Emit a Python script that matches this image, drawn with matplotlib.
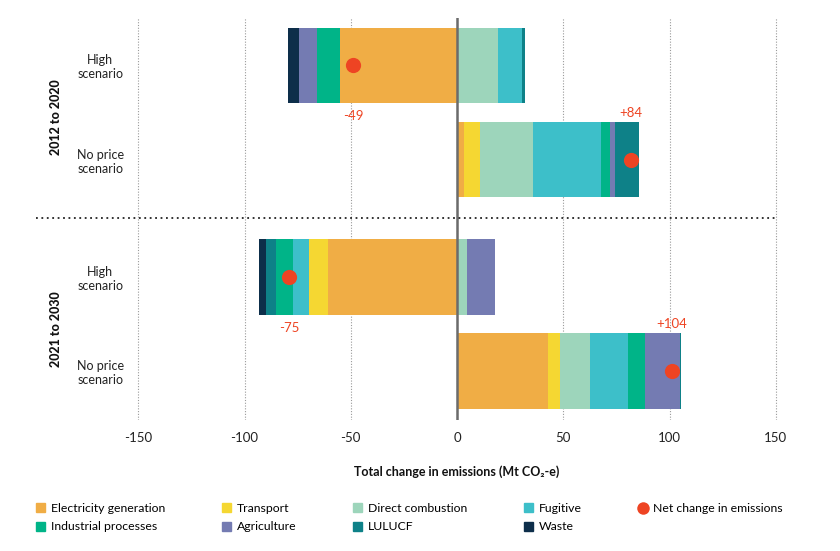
import numpy as np
import matplotlib
matplotlib.use('Agg')
import matplotlib.pyplot as plt
from matplotlib.patches import Patch
from matplotlib.lines import Line2D
from matplotlib.transforms import blended_transform_factory

plt.rcParams['font.family'] = ['Lato', 'DejaVu Sans']
plt.rcParams['axes.unicode_minus'] = False

# bars, top to bottom
periods = ['2012 to 2020', '2021 to 2030']
scenarios = ['High\nscenario', 'No price\nscenario', 'High\nscenario', 'No price\nscenario']

sectors = ['Electricity generation', 'Transport', 'Direct combustion', 'Fugitive',
           'Industrial processes', 'Agriculture', 'LULUCF', 'Waste']
colors = ['#f0ad45', '#f5d732', '#9dd5bb', '#3dbfc9',
          '#00b488', '#747bb2', '#0e8188', '#0d2e4a']

# Mt CO2-e change per sector, one value per bar
electricity = [-55, 3.5, -60.5, 42.6]
transport = [0, 7.1, -9.3, 5.8]
direct_combustion = [19.5, 25.1, 4.7, 14.3]
fugitive = [11, 31.9, -7.5, 18]
industrial = [-11, 4.2, -7.8, 7.9]
agriculture = [-8.3, 2.7, 13.3, 16.5]
lulucf = [1.4, 11.1, -4.7, 0.5]
waste = [-5, 0, -3.2, 0]

net_change = [-49, 82, -79, 101]
net_labels = ['-49', '+84', '-75', '+104']

xticks = [-150, -100, -50, 0, 50, 100, 150]

series = [electricity, transport, direct_combustion, fugitive,
          industrial, agriculture, lulucf, waste]

# two bars per period, with an extra gap between periods
ypos = np.array([0, 1, 2.25, 3.25])

fig = plt.figure(figsize=(8.4, 5.51), dpi=100)
ax = fig.add_axes([117 / 840, 1 - 420 / 551, 680 / 840, 402 / 551])

pos_left = np.zeros(4)
neg_left = np.zeros(4)
for name, vals, c in zip(sectors, series, colors):
    vals = np.array(vals, dtype=float)
    left = np.where(vals >= 0, pos_left, neg_left)
    ax.barh(ypos, vals, left=left, height=0.8, color=c, zorder=2)
    pos_left += np.where(vals >= 0, vals, 0)
    neg_left += np.where(vals < 0, vals, 0)

# net change dots and labels
red = '#ee4423'
ax.scatter(net_change, ypos, s=120, color=red, zorder=6, linewidths=0)
for x, y, lab in zip(net_change, ypos, net_labels):
    dy = 0.54 if x < 0 else -0.5
    ax.text(x, y + dy, lab, color=red, fontsize=9.5, ha='center', va='center')

ax.axvline(0, color='#6b6b6b', lw=1.8, zorder=5)

ax.set_xlim(-160, 160)
ax.set_ylim(3.77, -0.505)
ax.set_xticks(xticks)
ax.set_xticklabels([str(t) for t in xticks])
ax.set_yticks(ypos)
ax.set_yticklabels(scenarios, ha='center', multialignment='center')
ax.tick_params(axis='y', length=0, pad=12, labelsize=9, labelcolor='#222222')
ax.tick_params(axis='x', length=0, pad=9, labelsize=9.5, labelcolor='#222222')
ax.xaxis.grid(True, linestyle=(0, (1, 1.5)), color='#9a9a9a', linewidth=0.8)
ax.set_axisbelow(True)
for s in ax.spines.values():
    s.set_visible(False)

ax.set_xlabel('Total change in emissions (Mt CO\u2082-e)', fontsize=9,
              fontweight='bold', color='#111111', labelpad=15)

# period labels and divider
trans = blended_transform_factory(fig.transFigure, ax.transData)
for i, p in enumerate(periods):
    ymid = ypos[2 * i:2 * i + 2].mean()
    ax.text(56 / 840, ymid + 0.05, p, transform=trans, rotation=90, fontsize=9,
            fontweight='black', ha='center', va='center', color='#111111')
ydiv = (ypos[1] + ypos[2]) / 2
fig.add_artist(Line2D([36 / 840, 778 / 840], [ydiv, ydiv], transform=trans,
                      color='#222222', lw=1.3, linestyle=(0, (1, 2))))

# legend, filled column by column
order = [0, 4, 1, 5, 2, 6, 3, 7]
handles = [Patch(color=colors[i]) for i in order]
labels = [sectors[i] for i in order]
handles.append(Line2D([], [], marker='o', linestyle='none', markersize=9,
                      markerfacecolor=red, markeredgecolor='none'))
labels.append('Net change in emissions')
fig.legend(handles, labels, ncol=5, loc='upper left',
           bbox_to_anchor=(25 / 840, 1 - 492 / 551), frameon=False,
           fontsize=8.8, handlelength=0.75, handleheight=0.75,
           handletextpad=0.5, columnspacing=4.6, labelspacing=0.6)

fig.savefig('out.png', dpi=100)
